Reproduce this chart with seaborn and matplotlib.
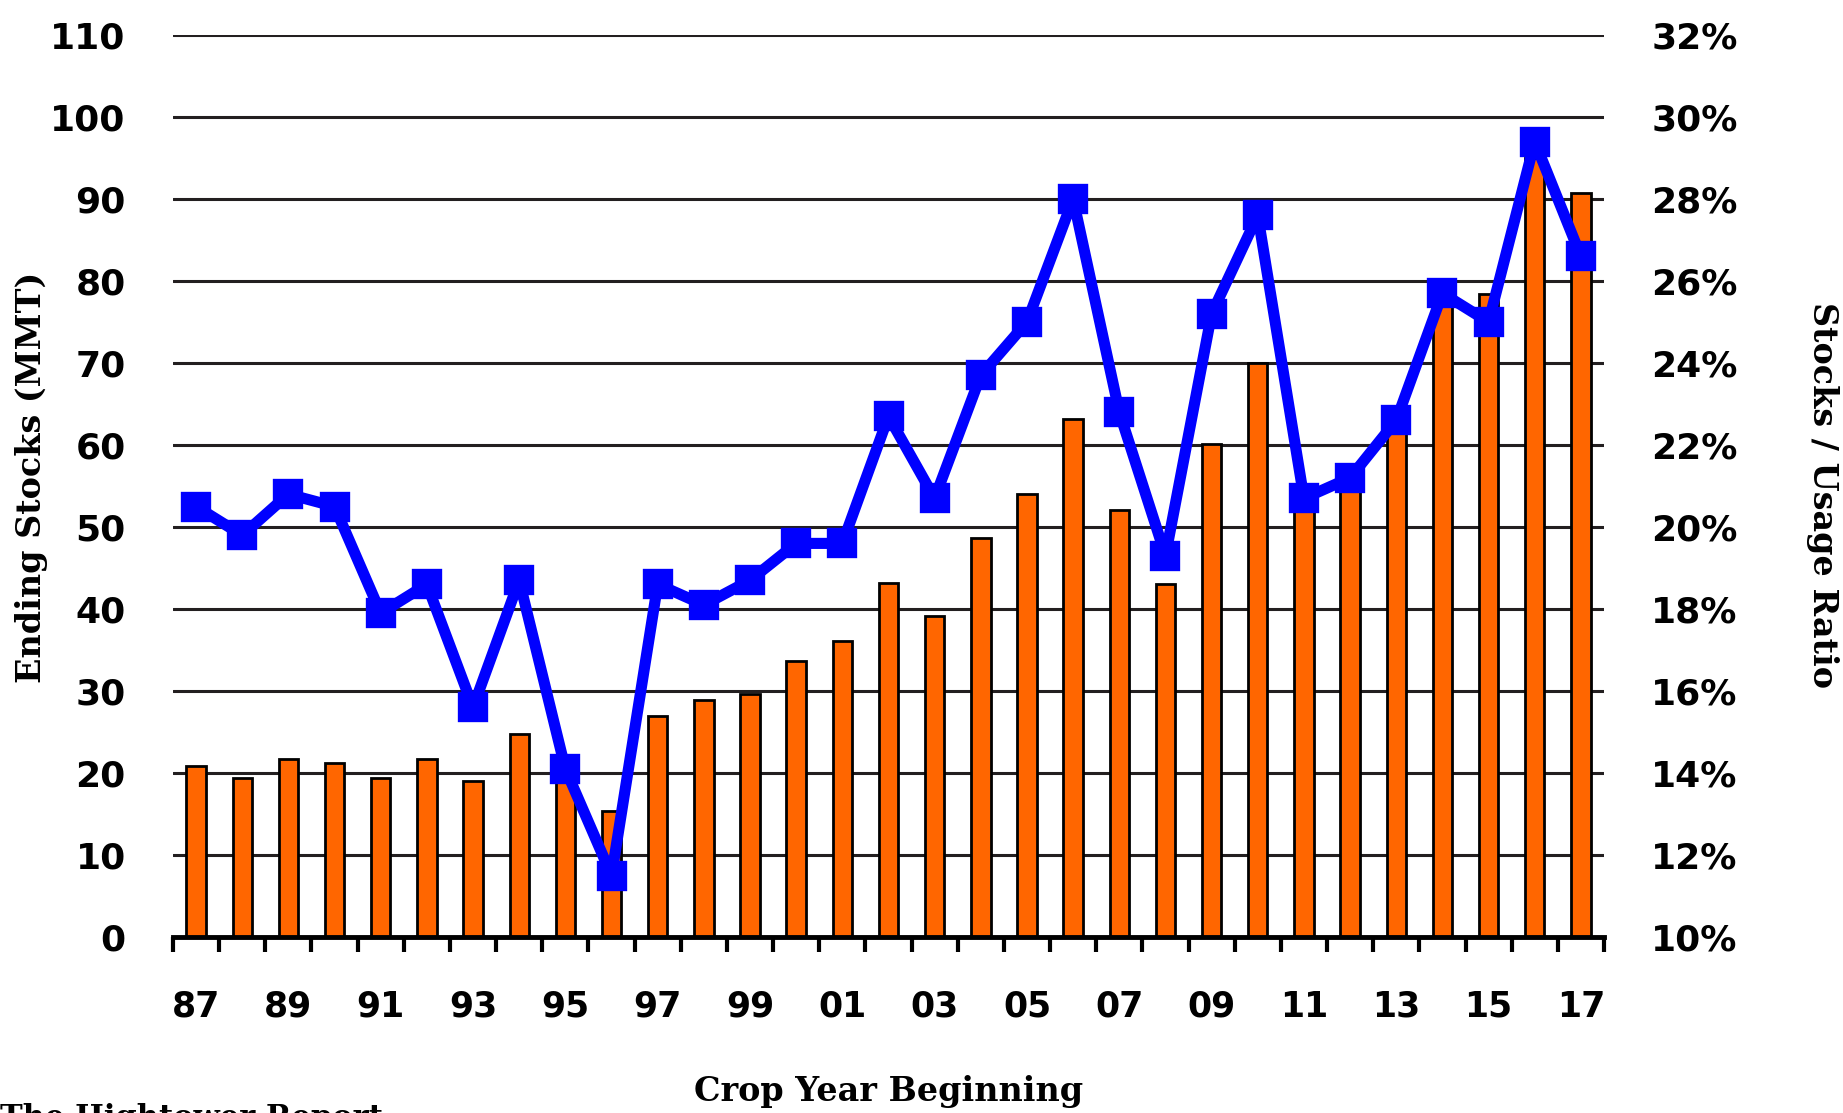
import numpy as np
import pandas as pd
import matplotlib
matplotlib.use('Agg')
import matplotlib.pyplot as plt
import seaborn as sns
from matplotlib.ticker import FixedLocator

years = ['87', '88', '89', '90', '91', '92', '93', '94', '95', '96', '97', '98', '99',
         '00', '01', '02', '03', '04', '05', '06', '07', '08', '09', '10', '11', '12',
         '13', '14', '15', '16', '17']
ending_stocks = [20.8, 19.4, 21.7, 21.2, 19.4, 21.7, 19.0, 24.8, 19.0, 15.4, 26.9, 28.9, 29.6,
                 33.6, 36.1, 43.2, 39.1, 48.6, 54.0, 63.2, 52.1, 43.0, 60.1, 70.0, 53.0, 56.0,
                 62.0, 77.5, 78.4, 95.0, 90.7]
stocks_usage_pct = [20.5, 19.8, 20.8, 20.5, 17.9, 18.6, 15.6, 18.7, 14.1, 11.5, 18.6, 18.1, 18.7,
                    19.6, 19.6, 22.7, 20.7, 23.7, 25.0, 28.0, 22.8, 19.3, 25.2, 27.6, 20.7, 21.2,
                    22.6, 25.7, 25.0, 29.4, 26.6]
left_ticks = list(range(0, 111, 10))
right_ticks = list(range(10, 33, 2))

df = pd.DataFrame({'year': years, 'stocks': ending_stocks, 'ratio': stocks_usage_pct})

sns.set_theme(style='white')
plt.rcParams['font.family'] = ['DejaVu Sans']

W, H = 1843, 1113
fig = plt.figure(figsize=(W / 100, H / 100), dpi=100)
ax = fig.add_axes([173 / W, 1 - 937 / H, (1604 - 173) / W, (937 - 35) / H])

sns.barplot(data=df, x='year', y='stocks', order=years, color='#FF6600', width=0.42,
            edgecolor='black', linewidth=2.0, saturation=1, ax=ax, zorder=2)
for p in ax.patches:
    p.set_facecolor('#FF6600')

ax.set_ylim(0, 110)
ax.set_xlim(-0.5, len(years) - 0.5)
ax.yaxis.set_major_locator(FixedLocator(left_ticks))
ax.set_yticklabels([str(t) for t in left_ticks])
ax.grid(axis='y', color='#231f20', linewidth=2.2)
ax.grid(axis='x', visible=False)
ax.set_axisbelow(True)
for s in ['left', 'right', 'top']:
    ax.spines[s].set_visible(False)
ax.spines['bottom'].set_color('black')
ax.spines['bottom'].set_linewidth(3.5)
ax.spines['bottom'].set_zorder(5)

ax.set_xticks(range(len(years)))
ax.set_xticklabels([y if i % 2 == 0 else '' for i, y in enumerate(years)])
ax.xaxis.set_minor_locator(FixedLocator(np.arange(-0.5, len(years), 1.0)))
ax.tick_params(axis='x', which='major', length=0, pad=38, labelsize=25, labelcolor='black')
ax.tick_params(axis='x', which='minor', length=11, width=3, color='black', direction='out', bottom=True)
ax.tick_params(axis='y', which='major', length=0, pad=34, labelsize=26, labelcolor='black')
for lbl in ax.get_xticklabels() + ax.get_yticklabels():
    lbl.set_fontweight('bold')

ax.set_xlabel('Crop Year Beginning', fontsize=24, fontweight='bold', family='DejaVu Serif',
              color='black')
ax.set_ylabel('Ending Stocks (MMT)', fontsize=24, fontweight='bold', family='DejaVu Serif',
              color='black')
ax.yaxis.set_label_coords(-125 / (1604 - 173), 0.51)
ax.xaxis.set_label_coords(0.5, -(1092 - 937) / (937 - 35))
ax.xaxis.label.set_verticalalignment('center')

ax2 = ax.twinx()
sns.pointplot(data=df, x='year', y='ratio', order=years, color='#0000FF', markers='s',
              markersize=16, linewidth=8, ax=ax2, zorder=4)
ax2.set_ylim(10, 32)
ax2.set_xlim(-0.5, len(years) - 0.5)
ax2.yaxis.set_major_locator(FixedLocator(right_ticks))
ax2.set_yticklabels([f'{t}%' for t in right_ticks])
ax2.tick_params(axis='y', which='major', length=0, pad=34, labelsize=26, labelcolor='black', right=True)
for lbl in ax2.get_yticklabels():
    lbl.set_fontweight('bold')
ax2.grid(False)
for s in ['left', 'right', 'top', 'bottom']:
    ax2.spines[s].set_visible(False)
ax2.set_xlabel('')
ax2.set_ylabel('Stocks / Usage Ratio', fontsize=24, fontweight='bold', family='DejaVu Serif',
               rotation=270, color='black')
ax2.yaxis.set_label_coords(1 + (1822 - 1604) / (1604 - 173), 0.49)
ax2.yaxis.label.set_verticalalignment('center')
ax2.xaxis.set_visible(False)

fig.text(0.0, 1 - 1103 / H, 'The Hightower Report', fontsize=22, fontweight='bold',
         family='DejaVu Serif', ha='left', va='top', color='black')

fig.savefig('out.png', dpi=100)
